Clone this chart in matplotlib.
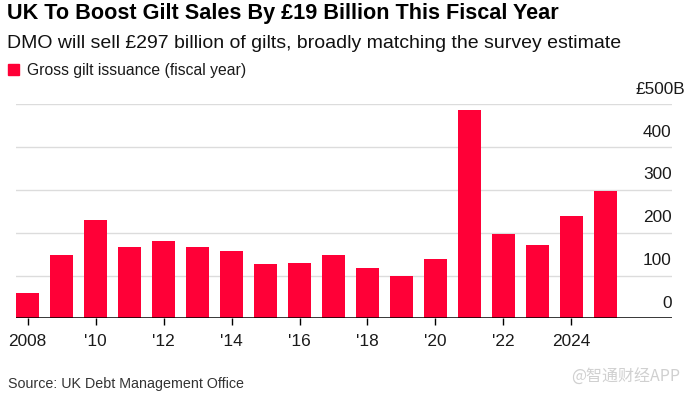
import matplotlib.pyplot as plt
import numpy as np

# fiscal year (end) and gross gilt issuance, GBP billions
years = np.arange(2008, 2026)
issuance = [59, 147, 229, 167, 181, 166, 157, 128, 129, 148,
            117, 99, 139, 486, 197, 172, 240, 297]

tick_years = [2008, 2010, 2012, 2014, 2016, 2018, 2020, 2022, 2024]
tick_labels = ['2008', "'10", "'12", "'14", "'16", "'18", "'20", "'22", '2024']
y_levels = [0, 100, 200, 300, 400, 500]
y_labels = ['0', '100', '200', '300', '400', '£500B']

red = '#ff0037'
W, H = 690, 396

plt.rcParams['font.family'] = ['Liberation Sans', 'DejaVu Sans']

fig = plt.figure(figsize=(W / 100, H / 100), dpi=100)

ax = fig.add_axes([15.7 / W, (H - 318.3) / H, 656 / W, 214 / H])
ax.set_xlim(2007.65, 2026.95)
ax.set_ylim(0, 500)

for v in y_levels[1:]:
    ax.axhline(v, color='#dcdcdc', lw=1, zorder=0)
ax.bar(years, issuance, width=0.7, color=red, zorder=2)
ax.axhline(0, color='black', lw=1.1, zorder=3)

# value labels sit above each gridline, right aligned (the unit hangs past the edge)
for v, lab in zip(y_levels, y_labels):
    dx = 10 if lab.endswith('B') else 0
    ax.annotate(lab, xy=(2026.95, v), xytext=(dx, 10.8), textcoords='offset points',
                ha='right', va='center', fontsize=12.4, color='#1a1a1a',
                annotation_clip=False)

for s in ax.spines.values():
    s.set_visible(False)
ax.set_yticks([])
ax.set_xticks(tick_years)
ax.set_xticklabels(tick_labels, fontsize=12.4, color='#1a1a1a')
ax.tick_params(axis='x', length=5, width=1, color='black', pad=6)

fig.text(7 / W, 1 - 14 / H, 'UK To Boost Gilt Sales By £19 Billion This Fiscal Year',
         fontsize=15.6, fontweight='bold', va='center', ha='left', color='black')
fig.text(7 / W, 1 - 44 / H, 'DMO will sell £297 billion of gilts, broadly matching the survey estimate',
         fontsize=14, va='center', ha='left', color='#111111')
fig.patches.append(plt.Rectangle((8 / W, 1 - 75 / H), 11 / W, 11 / H,
                                 transform=fig.transFigure, color=red))
fig.text(27 / W, 1 - 70 / H, 'Gross gilt issuance (fiscal year)',
         fontsize=11.3, va='center', ha='left', color='#1a1a1a')
fig.text(8 / W, 1 - 384 / H, 'Source: UK Debt Management Office',
         fontsize=10.3, va='center', ha='left', color='#333333')
fig.text(680 / W, 1 - 377 / H, '@智通财经APP', fontsize=11.5, va='center', ha='right',
         color='#d0d0d0', family=['Noto Sans CJK SC', 'DejaVu Sans'])

fig.savefig('out.png', dpi=100)
